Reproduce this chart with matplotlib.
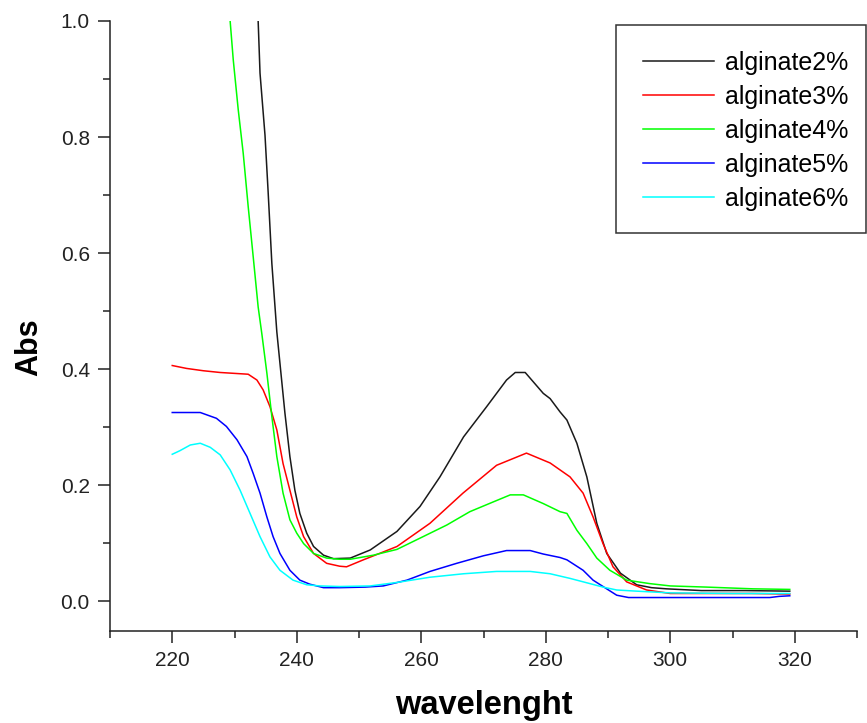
import matplotlib
matplotlib.use("Agg")
import matplotlib.pyplot as plt
from matplotlib.ticker import MultipleLocator
from matplotlib.patches import Rectangle

plt.rcParams['font.family'] = ['Liberation Sans', 'DejaVu Sans']

labels = ["alginate2%", "alginate3%", "alginate4%", "alginate5%", "alginate6%"]
colors = ["#1a1a1a", "#ff0000", "#00ff00", "#0000ff", "#00ffff"]

wl_black = [233.8, 234.1, 234.9, 235.4, 236.0, 236.8, 237.3, 238.1, 238.9, 239.7, 240.5,
            241.6, 242.7, 244.3, 245.9, 248.6, 251.8, 256.1, 259.8, 263.0, 266.8, 270.5,
            273.7, 275.1, 276.7, 279.6, 280.7, 282.3, 283.4, 285.0, 286.6, 288.2, 289.8,
            292.0, 294.6, 297.0, 299.4, 305.0, 312.0, 319.2]
abs_black = [1.0, 0.910, 0.803, 0.706, 0.582, 0.464, 0.410, 0.324, 0.249, 0.191, 0.151,
             0.117, 0.094, 0.079, 0.073, 0.074, 0.088, 0.120, 0.163, 0.214, 0.283, 0.335,
             0.381, 0.394, 0.394, 0.358, 0.349, 0.326, 0.312, 0.272, 0.214, 0.134, 0.082,
             0.048, 0.028, 0.023, 0.021, 0.018, 0.018, 0.017]

wl_red = [220.0, 222.3, 225.0, 227.7, 232.2, 233.6, 234.6, 235.7, 236.8, 237.8, 238.9,
          240.0, 241.1, 242.7, 244.8, 246.9, 248.0, 250.7, 256.1, 261.4, 266.7, 272.1,
          276.9, 280.7, 283.9, 286.0, 287.6, 289.2, 290.8, 293.0, 296.2, 300.0, 306.0,
          313.0, 319.2]
abs_red = [0.406, 0.401, 0.397, 0.394, 0.391, 0.381, 0.364, 0.335, 0.295, 0.237, 0.191,
           0.145, 0.111, 0.082, 0.065, 0.060, 0.059, 0.071, 0.094, 0.134, 0.186, 0.234,
           0.255, 0.238, 0.214, 0.186, 0.145, 0.099, 0.059, 0.033, 0.019, 0.013, 0.013,
           0.013, 0.012]

wl_green = [229.3, 229.8, 230.6, 231.4, 232.2, 233.0, 233.8, 234.4, 235.2, 236.0, 236.8,
            237.8, 238.9, 240.0, 241.1, 242.7, 244.8, 246.9, 248.6, 252.3, 256.1, 260.3,
            264.1, 267.8, 271.6, 274.3, 276.4, 279.6, 282.3, 283.4, 285.0, 286.6, 288.2,
            290.3, 293.0, 296.7, 300.0, 305.8, 313.3, 319.2]
abs_green = [1.0, 0.933, 0.847, 0.772, 0.680, 0.594, 0.507, 0.460, 0.393, 0.318, 0.249,
             0.186, 0.140, 0.117, 0.099, 0.082, 0.074, 0.072, 0.072, 0.079, 0.089, 0.111,
             0.131, 0.154, 0.171, 0.183, 0.183, 0.168, 0.154, 0.151, 0.122, 0.099, 0.074,
             0.053, 0.036, 0.030, 0.026, 0.024, 0.021, 0.020]

wl_blue = [220.0, 224.5, 227.1, 228.7, 230.4, 232.0, 233.0, 234.1, 235.2, 236.2, 237.3,
           238.9, 240.5, 242.1, 244.3, 246.9, 251.0, 253.9, 257.7, 261.4, 265.7, 270.0,
           273.7, 277.5, 279.6, 282.3, 283.4, 286.0, 287.6, 289.2, 291.4, 293.3, 300.0,
           310.0, 316.0, 317.5, 319.2]
abs_blue = [0.325, 0.325, 0.315, 0.301, 0.278, 0.249, 0.220, 0.186, 0.145, 0.111, 0.082,
            0.053, 0.036, 0.029, 0.023, 0.023, 0.024, 0.026, 0.036, 0.051, 0.065, 0.078,
            0.087, 0.087, 0.081, 0.075, 0.071, 0.053, 0.036, 0.025, 0.010, 0.006, 0.006,
            0.006, 0.006, 0.008, 0.009]

wl_cyan = [220.0, 221.2, 222.9, 224.5, 226.1, 227.7, 229.3, 230.9, 232.5, 234.1, 235.7,
           237.3, 239.4, 241.6, 243.7, 246.9, 251.8, 256.1, 261.4, 266.8, 272.1, 277.5,
           280.7, 283.9, 287.1, 289.2, 291.4, 294.6, 300.0, 310.0, 319.2]
abs_cyan = [0.253, 0.259, 0.269, 0.272, 0.265, 0.252, 0.226, 0.191, 0.151, 0.111, 0.076,
            0.053, 0.036, 0.028, 0.026, 0.025, 0.026, 0.032, 0.041, 0.047, 0.051, 0.051,
            0.047, 0.039, 0.030, 0.024, 0.019, 0.017, 0.014, 0.013, 0.013]

x_ticks = [220, 240, 260, 280, 300, 320]
y_ticks = [0.0, 0.2, 0.4, 0.6, 0.8, 1.0]

series = [(wl_black, abs_black), (wl_red, abs_red), (wl_green, abs_green),
          (wl_blue, abs_blue), (wl_cyan, abs_cyan)]

W, H = 867, 723
fig = plt.figure(figsize=(W / 100, H / 100), dpi=100)
ax = fig.add_axes([110 / W, (H - 631) / H, 747 / W, 610 / H])

for (x, y), c, lab in zip(series, colors, labels):
    ax.plot(x, y, color=c, lw=1.1, label=lab)

ax.set_xlim(210, 330)
ax.set_ylim(-0.0517, 1.0)
ax.set_xticks(x_ticks)
ax.set_yticks(y_ticks)
ax.set_yticklabels([f"{v:.1f}" for v in y_ticks])
ax.xaxis.set_minor_locator(MultipleLocator(10))
ax.yaxis.set_minor_locator(MultipleLocator(0.1))

for s in ["top", "right"]:
    ax.spines[s].set_visible(False)
for s in ["left", "bottom"]:
    ax.spines[s].set_linewidth(1.1)
    ax.spines[s].set_color("#222222")

ax.tick_params(which="major", direction="out", length=8.5, width=1.1, color="#222222",
               labelsize=15, labelcolor="#222222", pad=6)
ax.tick_params(which="minor", direction="out", length=5, width=1.1, color="#222222")

ax.set_xlabel("wavelenght", fontsize=23.5, fontweight="bold")
ax.xaxis.set_label_coords(0.5, -0.096)
ax.set_ylabel("Abs", fontsize=22, fontweight="bold")
ax.yaxis.set_label_coords(-0.088, 0.4656)

# legend frame (Origin-style box)
frame = Rectangle((616 / W, 1 - 233 / H), (866 - 616) / W, (233 - 25) / H,
                  transform=fig.transFigure, facecolor="white", edgecolor="#333333",
                  linewidth=1.1, zorder=5)
fig.patches.append(frame)

leg = fig.legend(loc="upper left", bbox_to_anchor=(643 / W, 1 - 51 / H),
                 bbox_transform=fig.transFigure, fontsize=18, frameon=False,
                 borderaxespad=0, borderpad=0, labelspacing=0.40,
                 handlelength=2.84, handletextpad=0.44)
leg.set_zorder(6)
for line in leg.get_lines():
    line.set_linewidth(1.1)

fig.savefig("out.png", dpi=100)
